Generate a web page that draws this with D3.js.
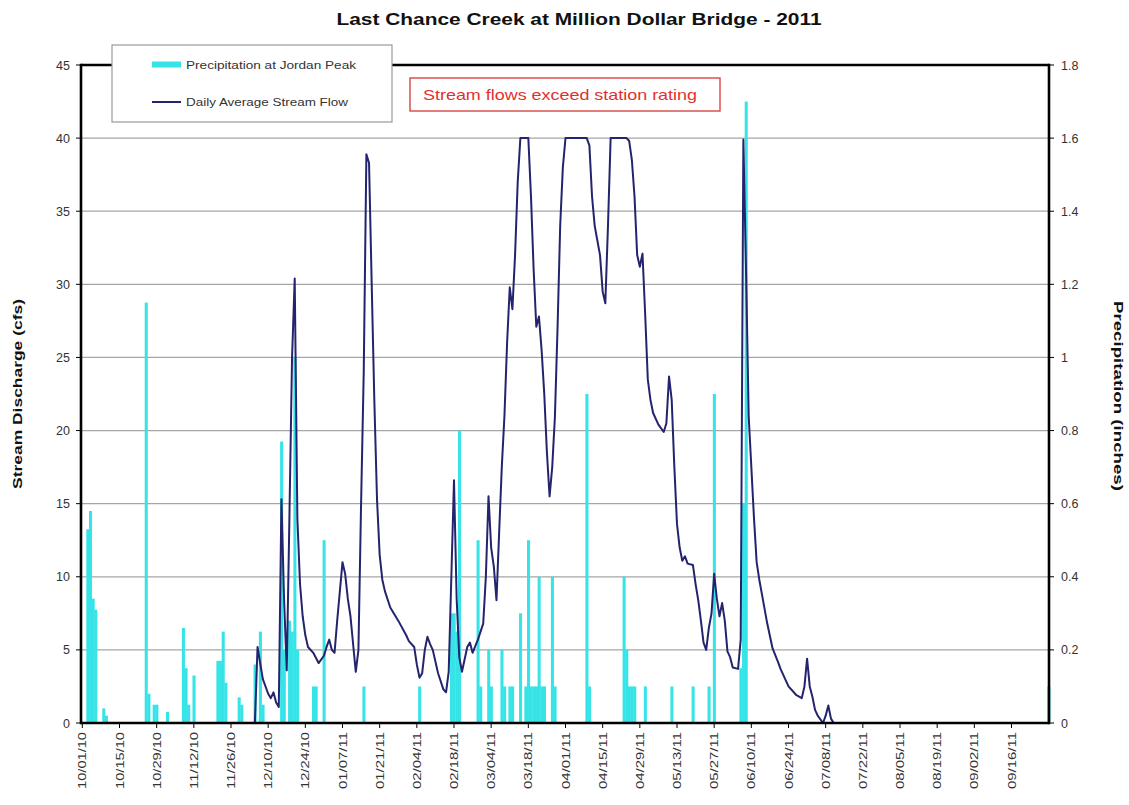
<!DOCTYPE html>
<html><head><meta charset="utf-8">
<script src="https://cdn.jsdelivr.net/npm/d3@7"></script>
<style>
body{margin:0;background:#fff}
svg{display:block}
text{font-family:"Liberation Sans",Arial,sans-serif}
</style>
</head><body>
<svg id="c" width="1129" height="805"></svg>
<script>
// ---------------- DATA ----------------
const titleText = "Last Chance Creek at Million Dollar Bridge -  2011";
const leftTicks = [0,5,10,15,20,25,30,35,40,45];
const rightTicks = [0,0.2,0.4,0.6,0.8,1,1.2,1.4,1.6,1.8];
const xTickLabels = ["10/01/10","10/15/10","10/29/10","11/12/10","11/26/10","12/10/10","12/24/10",
  "01/07/11","01/21/11","02/04/11","02/18/11","03/04/11","03/18/11","04/01/11","04/15/11","04/29/11",
  "05/13/11","05/27/11","06/10/11","06/24/11","07/08/11","07/22/11","08/05/11","08/19/11","09/02/11","09/16/11"];

const flowDates = ["2010-10-01","2010-12-05","2010-12-06","2010-12-08","2010-12-10","2010-12-11","2010-12-12","2010-12-13","2010-12-14",
 "2010-12-15","2010-12-16","2010-12-17","2010-12-18","2010-12-19","2010-12-20","2010-12-21","2010-12-22","2010-12-23","2010-12-24",
 "2010-12-25","2010-12-27","2010-12-29","2010-12-31","2011-01-01","2011-01-02","2011-01-03","2011-01-04","2011-01-05","2011-01-06",
 "2011-01-07","2011-01-08","2011-01-09","2011-01-10","2011-01-12","2011-01-13","2011-01-14","2011-01-15","2011-01-16","2011-01-17",
 "2011-01-18","2011-01-19","2011-01-20","2011-01-21","2011-01-22","2011-01-23","2011-01-25","2011-01-28","2011-01-31","2011-02-01",
 "2011-02-03","2011-02-04","2011-02-05","2011-02-06","2011-02-07","2011-02-08","2011-02-09","2011-02-10","2011-02-12","2011-02-14",
 "2011-02-15","2011-02-16","2011-02-17","2011-02-18","2011-02-19","2011-02-20","2011-02-21","2011-02-23","2011-02-24","2011-02-25",
 "2011-02-27","2011-03-01","2011-03-02","2011-03-03","2011-03-04","2011-03-05","2011-03-06","2011-03-07","2011-03-08","2011-03-09",
 "2011-03-10","2011-03-11","2011-03-12","2011-03-13","2011-03-14","2011-03-15","2011-03-18","2011-03-19","2011-03-20","2011-03-21",
 "2011-03-22","2011-03-23","2011-03-24","2011-03-25","2011-03-26","2011-03-27","2011-03-28","2011-03-29","2011-03-30","2011-03-31",
 "2011-04-01","2011-04-09","2011-04-10","2011-04-11","2011-04-12","2011-04-13","2011-04-14","2011-04-15","2011-04-16","2011-04-17",
 "2011-04-18","2011-04-24","2011-04-25","2011-04-26","2011-04-27","2011-04-28","2011-04-29","2011-04-30","2011-05-01","2011-05-02",
 "2011-05-03","2011-05-04","2011-05-06","2011-05-08","2011-05-09","2011-05-10","2011-05-11","2011-05-12","2011-05-13","2011-05-14",
 "2011-05-15","2011-05-16","2011-05-17","2011-05-19","2011-05-20","2011-05-21","2011-05-22","2011-05-23","2011-05-24","2011-05-25",
 "2011-05-26","2011-05-27","2011-05-28","2011-05-29","2011-05-30","2011-05-31","2011-06-01","2011-06-02","2011-06-03","2011-06-05",
 "2011-06-06","2011-06-07","2011-06-08","2011-06-09","2011-06-10","2011-06-11","2011-06-12","2011-06-13","2011-06-14","2011-06-16",
 "2011-06-18","2011-06-20","2011-06-21","2011-06-24","2011-06-27","2011-06-29","2011-06-30","2011-07-01","2011-07-02","2011-07-03",
 "2011-07-04","2011-07-05","2011-07-07","2011-07-08","2011-07-09","2011-07-10","2011-07-11","2011-09-30"];
const flowCfs = [0,0,5.2,3.0,2.0,1.7,2.1,1.4,1.1,
 15.3,8.4,3.6,14,25,30.4,14,9.5,7.3,6.0,
 5.2,4.8,4.1,4.6,5.2,5.7,5.0,4.8,7.0,9.0,
 11.0,10.2,8.5,7.3,3.5,5.0,15,24,38.9,38.3,
 30,22,15.3,11.5,9.8,9.0,7.9,7.0,6.0,5.6,
 5.2,4.0,3.1,3.4,5.0,5.9,5.4,5.0,3.4,2.3,
 2.1,3.5,10,16.6,8.5,4.5,3.5,5.2,5.5,4.8,
 5.7,6.8,10,15.5,12,10.7,8.4,13,17.5,21,
 26,29.8,28.3,32,37,40,40,36,31,27.1,
 27.8,25.5,22.5,18.5,15.5,17.5,20.9,27,34,38,
 40,40,39.5,36,34,33,32,29.5,28.7,34,
 40,40,39.8,38.5,36,32,31.2,32.1,28,23.5,
 22.1,21.2,20.4,19.9,20.5,23.7,22.1,17.5,13.6,12,
 11.1,11.4,10.9,10.8,9.5,8.4,7,5.5,5.0,6.5,
 7.5,10.2,8.5,7.3,8.2,7,4.9,4.5,3.8,3.7,
 5.7,39.9,31,21,17.5,14,11,9.8,8.8,6.8,
 5.1,4.2,3.7,2.5,1.9,1.7,2.5,4.4,2.5,1.8,
 0.9,0.5,0,0.5,1.2,0.3,0,0];

const precipDates = ["2010-10-03","2010-10-04","2010-10-05","2010-10-06","2010-10-09","2010-10-10","2010-10-25","2010-10-26",
 "2010-10-28","2010-10-29","2010-11-02","2010-11-08","2010-11-09","2010-11-10","2010-11-12","2010-11-21","2010-11-22",
 "2010-11-23","2010-11-24","2010-11-29","2010-11-30","2010-12-05","2010-12-07","2010-12-08","2010-12-15","2010-12-16",
 "2010-12-18","2010-12-19","2010-12-20","2010-12-21","2010-12-27","2010-12-28","2010-12-31","2011-01-15","2011-02-05",
 "2011-02-17","2011-02-18","2011-02-19","2011-02-20","2011-02-27","2011-02-28","2011-03-03","2011-03-04","2011-03-08",
 "2011-03-09","2011-03-11","2011-03-12","2011-03-15","2011-03-17","2011-03-18","2011-03-19","2011-03-20","2011-03-21",
 "2011-03-22","2011-03-23","2011-03-24","2011-03-27","2011-03-28","2011-04-09","2011-04-10","2011-04-23","2011-04-24",
 "2011-04-25","2011-04-26","2011-04-27","2011-05-01","2011-05-11","2011-05-19","2011-05-25","2011-05-27","2011-06-06",
 "2011-06-07","2011-06-08","2011-09-30"];
const precipInches = [0.53,0.58,0.34,0.31,0.04,0.02,1.15,0.08,
 0.05,0.05,0.03,0.26,0.15,0.05,0.13,0.17,0.17,
 0.25,0.11,0.07,0.05,0.16,0.25,0.05,0.77,0.2,
 0.28,0.25,1.0,0.2,0.1,0.1,0.5,0.1,0.1,
 0.3,0.3,0.25,0.8,0.5,0.1,0.2,0.1,0.2,
 0.1,0.1,0.1,0.3,0.1,0.5,0.1,0.1,0.1,
 0.4,0.1,0.1,0.4,0.1,0.9,0.1,0.4,0.2,
 0.1,0.1,0.1,0.1,0.1,0.1,0.1,0.9,0.15,
 0.6,1.7,0.1];

// ---------------- CHART ----------------
const svg = d3.select("#c");
const L = 81, R = 1049, T = 65, B = 723;
const parse = d3.utcParse("%Y-%m-%d");
const parseLbl = d3.utcParse("%m/%d/%y");
const x = d3.scaleUtc().domain([Date.UTC(2010,9,1), Date.UTC(2011,9,1)]).range([L, 1050]);
const yL = d3.scaleLinear().domain([0,45]).range([B,T]);
const yR = d3.scaleLinear().domain([0,1.8]).range([B,T]);
const dayW = x(Date.UTC(2010,9,2)) - x(Date.UTC(2010,9,1));
const cx = d => x(d) + dayW/2;

// gridlines
svg.append("g").selectAll("line").data(leftTicks.filter(t=>t>0 && t<45)).join("line")
  .attr("x1",L).attr("x2",R).attr("y1",d=>yL(d)).attr("y2",d=>yL(d))
  .attr("stroke","#a6a6a6").attr("stroke-width",1.2);

// precipitation bars
const precip = precipDates.map((d,i)=>({date:parse(d), v:precipInches[i]}));
svg.append("g").selectAll("rect").data(precip).join("rect")
  .attr("x",d=>x(d.date)).attr("width",dayW+0.4)
  .attr("y",d=>yR(d.v)).attr("height",d=>B-yR(d.v))
  .attr("fill","#36e4e8");

// flow line
const flow = flowDates.map((d,i)=>({date:parse(d), v:flowCfs[i]}));
svg.append("path").datum(flow)
  .attr("d", d3.line().x(d=>cx(d.date)).y(d=>yL(d.v)))
  .attr("fill","none").attr("stroke","#24246e").attr("stroke-width",2).attr("stroke-linejoin","round");

// frame
const frame = svg.append("g").attr("stroke","#000").attr("stroke-width",2.6);
frame.append("line").attr("x1",L).attr("x2",R).attr("y1",T).attr("y2",T);
frame.append("line").attr("x1",L).attr("x2",R).attr("y1",B).attr("y2",B);
frame.append("line").attr("x1",L).attr("x2",L).attr("y1",T-1.3).attr("y2",B+1.3);
frame.append("line").attr("x1",R).attr("x2",R).attr("y1",T-1.3).attr("y2",B+1.3);

// left axis
const gl = svg.append("g");
gl.selectAll("line").data(leftTicks).join("line")
  .attr("x1",L-5).attr("x2",L).attr("y1",d=>yL(d)).attr("y2",d=>yL(d)).attr("stroke","#000").attr("stroke-width",1);
gl.selectAll("text").data(leftTicks).join("text")
  .attr("x",70).attr("y",d=>yL(d)).attr("dy","0.36em").attr("text-anchor","end")
  .attr("font-size",12.5).attr("fill","#333").text(d=>d);

// right axis
const gr = svg.append("g");
gr.selectAll("line").data(rightTicks).join("line")
  .attr("x1",R).attr("x2",R+5).attr("y1",d=>yR(d)).attr("y2",d=>yR(d)).attr("stroke","#000").attr("stroke-width",1);
gr.selectAll("text").data(rightTicks).join("text")
  .attr("x",1061).attr("y",d=>yR(d)).attr("dy","0.36em").attr("text-anchor","start")
  .attr("font-size",12.5).attr("fill","#333").text(d=>d3.format("~g")(d));

// x axis ticks & labels
const xt = xTickLabels.map(s=>({lbl:s, date:parseLbl(s)}));
const gx = svg.append("g");
gx.selectAll("line").data(xt).join("line")
  .attr("x1",d=>cx(d.date)).attr("x2",d=>cx(d.date)).attr("y1",B).attr("y2",B+5)
  .attr("stroke","#000").attr("stroke-width",1);
gx.selectAll("text").data(xt).join("text")
  .attr("transform",d=>`translate(${cx(d.date)},${B+9}) rotate(-90)`)
  .attr("dy","0.36em").attr("text-anchor","end")
  .attr("font-size",11.5).attr("fill","#333")
  .attr("textLength",57).attr("lengthAdjust","spacingAndGlyphs")
  .text(d=>d.lbl);

// title
svg.append("text").attr("x",579).attr("y",25).attr("text-anchor","middle")
  .attr("font-size",16).attr("font-weight","bold").attr("fill","#111")
  .attr("textLength",485).attr("lengthAdjust","spacingAndGlyphs")
  .text(titleText);

// axis titles
svg.append("text").attr("transform","translate(22,394) rotate(-90)").attr("text-anchor","middle")
  .attr("font-size",12).attr("font-weight","bold").attr("fill","#111")
  .attr("textLength",190).attr("lengthAdjust","spacingAndGlyphs")
  .text("Stream Discharge (cfs)");
svg.append("text").attr("transform","translate(1114,396) rotate(90)").attr("text-anchor","middle")
  .attr("font-size",12).attr("font-weight","bold").attr("fill","#111")
  .attr("textLength",190).attr("lengthAdjust","spacingAndGlyphs")
  .text("Precipitation (inches)");

// legend
const lg = svg.append("g");
lg.append("rect").attr("x",112).attr("y",45).attr("width",280).attr("height",77)
  .attr("fill","#fff").attr("stroke","#9a9a9a").attr("stroke-width",1.2);
lg.append("rect").attr("x",152).attr("y",61.5).attr("width",29).attr("height",6).attr("fill","#36e4e8");
lg.append("text").attr("x",186).attr("y",68.5).attr("font-size",10.5).attr("fill","#333")
  .attr("textLength",170).attr("lengthAdjust","spacingAndGlyphs").text("Precipitation at Jordan Peak");
lg.append("line").attr("x1",152).attr("x2",181).attr("y1",102).attr("y2",102)
  .attr("stroke","#24246e").attr("stroke-width",2);
lg.append("text").attr("x",186).attr("y",106).attr("font-size",10.5).attr("fill","#333")
  .attr("textLength",162).attr("lengthAdjust","spacingAndGlyphs").text("Daily Average Stream Flow");

// annotation
svg.append("rect").attr("x",410).attr("y",78).attr("width",310).attr("height",33)
  .attr("fill","#fff").attr("stroke","#d9534f").attr("stroke-width",1.5);
svg.append("text").attr("x",423).attr("y",100).attr("font-size",15).attr("fill","#e3302f")
  .attr("textLength",274).attr("lengthAdjust","spacingAndGlyphs")
  .text("Stream flows exceed station rating");
</script>
</body></html>
